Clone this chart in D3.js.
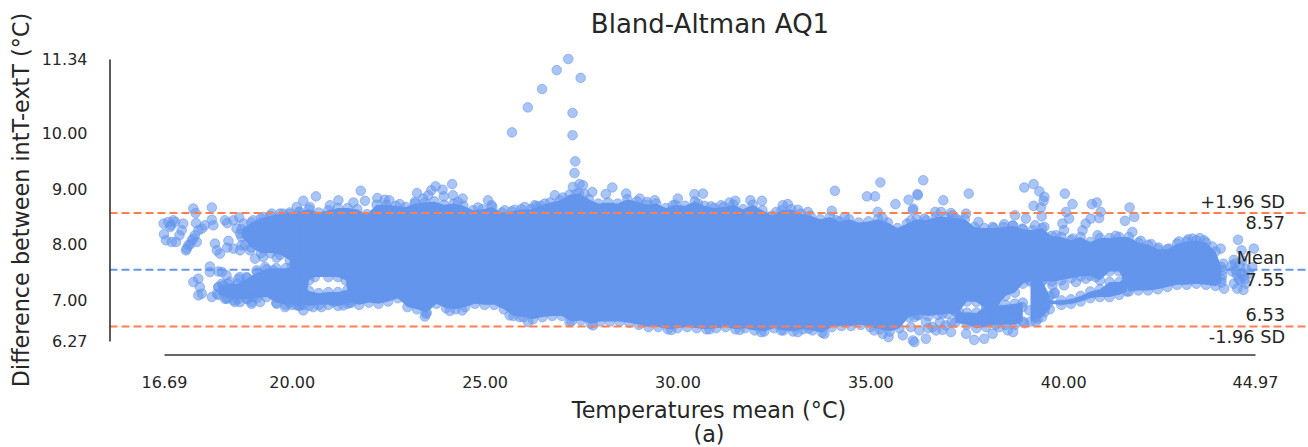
<!DOCTYPE html>
<html>
<head>
<meta charset="utf-8">
<script src="https://cdn.jsdelivr.net/npm/d3@7"></script>
<style>
    html, body { margin: 0; padding: 0; background: #fff; }
    svg { display: block; }
    text { font-family: "DejaVu Sans", sans-serif; fill: #262626; }
</style>
</head>
<body>
<div id="chart"></div>
<script>
// values. the dense middle of the cloud is a solid mass, so it is
// kept as outlines (upper/lower limit of the cloud) and only the edge and stray points are listed
const xTicks = [16.69, 20, 25, 30, 35, 40, 44.97];
const yTicks = [6.27, 7, 8, 9, 10, 11.34];
const meanDiff = 7.55;
const upperLimit = 8.57;
const lowerLimit = 6.53;

const mainTopX = [19.95,20.2,20.45,20.7,20.95,21.2,21.45,21.7,21.95,22.2,22.45,22.7,22.95,23.2,23.45,23.7,23.95,24.2,24.45,24.7,24.95,25.2,25.45,25.7,25.95,26.2,26.45,26.7,26.95,27.2,27.45,27.7,27.95,28.2,28.45,28.7,28.95,29.2,29.45,29.7,29.95,30.2,30.45,30.7,30.95,31.2,31.45,31.7,31.95,32.2,32.45,32.7,32.95,33.2,33.45,33.7,33.95,34.2,34.45,34.7,34.95,35.2,35.45,35.7,35.95,36.2,36.45,36.7,36.95,37.2,37.45,37.7,37.95,38.2,38.45,38.7,38.95,39.2,39.45,39.7,39.95,40.2,40.45,40.7,40.95,41.2,41.45,41.7,41.95,42.2,42.45,42.7,42.95,43.2,43.45,43.7,43.95,44.1];
const mainTopY = [8.55,8.60,8.64,8.58,8.62,8.66,8.66,8.64,8.55,8.72,8.72,8.70,8.68,8.74,8.76,8.78,8.72,8.74,8.70,8.62,8.64,8.68,8.58,8.60,8.64,8.64,8.70,8.76,8.80,8.90,8.92,8.82,8.74,8.76,8.74,8.82,8.78,8.72,8.74,8.66,8.72,8.70,8.78,8.70,8.66,8.68,8.72,8.64,8.72,8.62,8.52,8.62,8.64,8.56,8.52,8.46,8.50,8.42,8.46,8.40,8.42,8.46,8.40,8.30,8.38,8.46,8.44,8.50,8.50,8.48,8.46,8.32,8.30,8.30,8.32,8.34,8.28,8.26,8.30,8.16,8.14,8.08,8.14,8.05,8.12,8.12,8.14,8.14,8.04,8.00,7.92,7.92,8.02,8.06,8.08,8.04,7.88,7.60];
const mainBottomX = [19.95,20.2,20.35,20.45,20.6,20.95,21.2,21.4,21.5,21.75,22.0,22.25,22.5,22.75,23.0,23.25,23.5,23.75,24.0,24.25,24.5,24.75,25.0,25.25,25.5,25.75,26.0,26.25,26.5,26.75,27.0,27.25,27.5,27.75,28.0,28.25,28.5,28.75,29.0,29.25,29.5,29.75,30.0,30.25,30.5,30.75,31.0,31.25,31.5,31.75,32.0,32.25,32.5,32.75,33.0,33.25,33.5,33.75,34.0,34.25,34.5,34.75,35.0,35.25,35.5,35.75,36.0,36.25,36.5,36.75,37.0,37.25,37.5,37.75,38.0,38.25,38.5,38.75,38.95,39.15,39.45,39.7,39.95,40.2,40.45,40.7,40.95,41.2,41.45,41.6,41.7,41.95,42.2,42.45,42.7,42.95,43.2,43.45,43.7,43.95,44.1];
const mainBottomY = [6.96,6.90,7.00,7.36,7.42,7.42,7.42,7.36,6.96,6.92,6.96,6.94,6.98,7.04,6.88,6.84,6.78,6.94,6.86,6.84,6.88,6.94,6.92,6.92,6.84,6.72,6.70,6.66,6.70,6.72,6.72,6.62,6.64,6.58,6.62,6.62,6.62,6.60,6.56,6.52,6.52,6.48,6.50,6.52,6.50,6.48,6.50,6.52,6.48,6.50,6.46,6.44,6.50,6.46,6.44,6.48,6.46,6.42,6.52,6.54,6.54,6.56,6.52,6.48,6.44,6.50,6.70,6.74,6.72,6.74,6.76,6.75,6.98,6.97,6.85,6.85,7.08,7.14,7.30,7.34,7.34,7.34,7.36,7.40,7.43,7.44,7.36,7.52,7.52,7.30,7.16,7.18,7.18,7.20,7.24,7.28,7.28,7.30,7.28,7.26,7.32];

// thick strands that are split from the main mass by white gaps
const upperLobeX = [18.7,18.95,19.2,19.45,19.7,19.95,20.2];
const upperLobeTop = [8.28,8.40,8.48,8.52,8.56,8.58,8.58];
const upperLobeBottom = [8.14,7.95,7.85,7.85,7.82,7.72,7.70];
const lowerLobeX = [18.1,18.35,18.6,18.85,19.1,19.35,19.6,19.85,20.0,20.2];
const lowerLobeTop = [7.24,7.30,7.30,7.40,7.50,7.56,7.58,7.58,7.60,7.62];
const lowerLobeBottom = [7.10,7.04,7.02,7.02,7.04,7.06,6.96,6.92,6.92,6.92];
const slitStrandX = [20.3,20.45,20.7,20.95,21.2,21.45,21.55];
const slitStrandTop = [7.28,7.17,7.13,7.15,7.15,7.19,7.28];
const slitStrandBottom = [6.92,6.90,6.92,6.92,6.90,6.94,6.96];
const loopStrandX = [37.2,37.5,37.75,38.0,38.25,38.5,38.75,38.95];
const loopStrandTop = [6.80,6.78,6.78,6.90,6.90,6.92,6.94,6.96];
const loopStrandBottom = [6.60,6.56,6.50,6.52,6.56,6.56,6.56,6.62];
const columnStrandX = [39.15,39.45,39.65];
const columnStrandTop = [7.36,7.36,7.08];
const columnStrandBottom = [6.62,6.70,6.84];
const tailStrandX = [39.6,39.95,40.2,40.45,40.7,40.95,41.2,41.45,41.65];
const tailStrandTop = [7.00,7.00,7.02,7.08,7.16,7.20,7.33,7.33,7.40];
const tailStrandBottom = [6.94,6.92,6.94,6.98,7.04,7.06,7.06,7.10,7.16];

const spikeX = [25.71,26.12,26.49,26.87,27.17,27.49,27.28,27.28,27.35,27.33];
const spikeY = [10.02,10.47,10.80,11.14,11.34,11.00,10.37,9.97,9.50,9.29];

// single points around the left end of the cloud
const leftX = [16.68,16.80,16.93,16.87,17.19,17.15,17.09,17.00,16.89,16.74,16.69,16.85,16.98,17.26,17.32,17.41,17.49,17.58,17.75,17.52,17.97,17.93,17.45,17.51,17.93,18.27,18.33,18.49,18.64,18.01,18.06,18.14,18.36,18.33,18.49,18.66,18.70,17.37,17.28,17.45,17.54,17.67,17.45,17.58,17.62,17.58,17.67,17.93,17.88,17.88,18.10,18.19,18.31,18.10,18.06,18.23,18.27,18.40,18.49,18.66,18.75,18.66,18.96,19.00];
const leftY = [8.38,8.41,8.44,8.35,8.38,8.26,8.17,8.05,8.05,8.08,8.19,8.32,8.41,7.90,7.99,8.08,8.17,8.26,8.35,8.39,8.35,8.45,8.65,8.57,8.67,8.44,8.39,8.44,8.49,8.02,7.90,7.84,8.07,7.95,7.93,7.90,7.99,8.01,7.93,8.11,8.05,8.29,7.33,7.39,7.24,7.09,7.12,7.06,7.51,7.61,7.52,7.51,7.45,7.24,7.12,7.27,7.03,7.18,7.00,6.97,7.24,7.42,6.97,7.06];

// bumps on the lobes and loops, where the edge is rough
const roughX = [18.19,18.40,18.62,18.83,19.09,19.31,19.52,18.31,18.53,18.83,18.96,19.18,19.61,19.83,20.13,20.30,20.56,20.77,21.08,21.34,18.57,18.75,19.00,19.26,19.48,19.78,18.66,18.79,18.92,19.05,19.26,19.61,37.52,37.30,37.74,38.00,38.25,38.47,38.77,38.94,39.12,39.42,39.55,39.29,38.60,36.87,36.61,36.44,36.14,36.80,37.10,36.50,36.95,39.76,39.78,39.72,40.02,40.33,40.58,40.84,44.12,44.14,44.10];
const roughY = [7.30,7.33,7.39,7.42,7.54,7.60,7.54,7.03,6.97,7.03,6.94,6.97,6.94,6.88,6.91,6.82,6.88,6.88,6.97,6.91,8.29,8.38,8.44,8.50,8.56,8.56,8.20,7.99,7.90,7.75,7.78,7.77,6.70,6.79,6.67,6.70,6.70,6.76,6.82,6.88,6.82,6.82,6.94,6.70,6.67,6.76,6.52,6.61,6.70,6.60,6.60,6.50,6.55,7.12,7.14,7.27,7.27,7.33,7.39,7.42,7.45,7.55,7.38];

// points sticking out above the cloud
const aboveX = [20.13,20.30,20.63,20.47,20.99,21.21,21.60,21.79,21.90,22.22,22.41,22.53,22.80,23.25,23.19,23.41,23.54,23.73,23.62,23.91,24.16,24.18,23.94,24.43,24.31,24.83,25.09,25.18,25.52,25.78,26.04,26.34,27.29,27.46,27.55,27.79,28.31,28.14,28.67,26.82,27.03,27.38,27.59,29.02,29.21,29.41,30.01,30.44,30.66,30.53,29.88,30.87,31.13,26.30,26.56,31.35,31.50,31.89,32.19,32.86,32.73,33.12,33.38,34.00,34.08,35.26,34.91,35.12,35.65,35.99,36.22,35.19,36.11,32.56,32.34,34.11,34.33,35.32,36.05,36.37,36.23,36.10,36.89,37.55,36.68,36.83,37.09,37.48,37.80,38.47,38.75,38.99,39.23,39.38,39.51,39.49,39.23,39.42,39.44,39.03,39.27,40.04,40.24,40.07,40.15,39.98,40.02,40.74,40.87,40.97,40.93,40.71,40.58,40.50,40.24,40.89,39.81,39.51,38.69,38.94,38.17,36.40,37.13,37.30,41.72,41.84,41.60,41.79,41.36,42.01,42.28,42.47,43.00,43.24,43.35,43.54,43.65,43.86,44.08,42.74];
const aboveY = [8.68,8.79,8.87,8.68,8.71,8.80,8.76,8.97,8.79,8.84,8.81,8.80,8.73,8.93,8.77,8.83,8.89,9.05,8.98,8.99,9.09,8.89,8.87,8.83,8.77,8.67,8.80,8.71,8.62,8.63,8.68,8.69,9.04,9.09,9.07,8.95,9.03,8.91,8.92,8.89,8.85,8.92,8.91,8.83,8.77,8.80,8.83,8.91,8.92,8.74,8.71,8.69,8.71,8.71,8.74,8.76,8.79,8.80,8.79,8.73,8.71,8.63,8.59,8.61,8.97,9.12,8.87,8.87,8.73,8.81,8.91,8.59,8.65,8.59,8.50,8.44,8.50,8.47,8.44,9.16,8.89,8.62,8.80,8.92,8.59,8.59,8.57,8.56,8.41,8.37,8.53,9.03,9.09,8.96,8.86,8.79,8.70,8.67,8.51,8.47,8.35,8.92,8.73,8.59,8.47,8.38,8.26,8.73,8.76,8.59,8.48,8.47,8.38,8.26,8.11,8.17,8.17,8.32,8.35,8.29,8.32,8.47,8.53,8.44,8.67,8.50,8.43,8.23,8.16,8.07,8.01,7.95,8.06,8.10,8.11,8.12,8.08,7.97,7.93,7.93];

// points hanging below the cloud and the loose ones at the far right
const belowX = [23.48,23.45,24.10,24.42,25.65,25.91,26.13,27.20,27.81,29.84,30.83,31.61,32.17,32.69,33.12,33.40,33.81,35.10,35.32,35.47,35.84,36.10,36.44,36.14,36.27,36.70,36.87,37.09,37.48,37.69,37.95,38.17,38.56,38.70,38.34,38.99,39.29,39.51,39.33,38.69,38.51,36.23,36.05,44.15,44.53,44.94,44.42,44.62,44.38,44.47,44.73,44.90,44.64,44.68,44.81,44.42,44.51,44.67,44.73,44.55,44.17,44.45,44.58,44.62,44.50,44.58,44.70,44.38];
const belowY = [6.76,6.71,6.81,6.82,6.73,6.70,6.61,6.61,6.55,6.47,6.48,6.47,6.43,6.46,6.43,6.49,6.40,6.46,6.40,6.34,6.37,6.28,6.31,6.25,6.46,6.46,6.47,6.43,6.40,6.29,6.31,6.40,6.46,6.43,6.52,6.59,6.61,6.79,6.67,6.70,6.70,6.73,6.52,7.66,8.09,7.93,7.73,7.90,7.63,7.54,7.57,7.60,7.72,7.45,7.48,7.30,7.21,7.19,7.30,7.39,7.21,7.66,7.62,7.48,7.46,7.36,7.38,7.52];

const width = 1308, height = 447;
const margin = {left: 109.5, right: 1255, top: 59, bottom: 341};

const svg = d3.select("#chart").append("svg")
    .attr("width", width)
    .attr("height", height);

const x = d3.scaleLinear().domain([16.69, 44.97]).range([164, margin.right]);
const y = d3.scaleLinear().domain([6.27, 11.34]).range([margin.bottom, margin.top]);

// --- cloud ---
const blue = "#6495ED";
const outline = d3.line().x(d => x(d[0])).y(d => y(d[1]));

function zipPts(xs, ys) {
    return xs.map((v, i) => [v, ys[i]]);
}

const mainEdgeTop = zipPts(mainTopX, mainTopY);
const mainEdgeBottom = zipPts(mainBottomX, mainBottomY);

const strands = [
    [upperLobeX, upperLobeTop, upperLobeBottom],
    [lowerLobeX, lowerLobeTop, lowerLobeBottom],
    [slitStrandX, slitStrandTop, slitStrandBottom],
    [loopStrandX, loopStrandTop, loopStrandBottom],
    [columnStrandX, columnStrandTop, columnStrandBottom],
    [tailStrandX, tailStrandTop, tailStrandBottom]
].map(s => ({top: zipPts(s[0], s[1]), bottom: zipPts(s[0], s[2])}));

const masses = [{top: mainEdgeTop, bottom: mainEdgeBottom}].concat(strands);

svg.append("g").attr("class", "masses")
    .selectAll("path")
    .data(masses)
    .enter()
    .append("path")
    .attr("d", d => outline(d.top.concat(d.bottom.slice().reverse())) + "Z")
    .style("fill", blue);

const points = zipPts(spikeX, spikeY)
    .concat(zipPts(leftX, leftY))
    .concat(zipPts(roughX, roughY))
    .concat(zipPts(aboveX, aboveY))
    .concat(zipPts(belowX, belowY));
masses.forEach(m => {
    m.top.forEach(p => points.push(p));
    m.bottom.forEach(p => points.push(p));
});

svg.append("g").attr("class", "points")
    .selectAll("circle")
    .data(points)
    .enter()
    .append("circle")
    .attr("cx", d => x(d[0]))
    .attr("cy", d => y(d[1]))
    .attr("r", 4.8)
    .style("fill", blue)
    .style("fill-opacity", 0.55)
    .style("stroke", blue)
    .style("stroke-opacity", 0.55)
    .style("stroke-width", 1);

// --- mean and limit lines ---
const refLines = [
    {value: upperLimit, color: "#FF7F50", above: "+1.96 SD", below: "8.57"},
    {value: meanDiff, color: blue, above: "Mean", below: "7.55"},
    {value: lowerLimit, color: "#FF7F50", above: "6.53", below: "-1.96 SD"}
];

svg.append("g").attr("class", "ref-lines")
    .selectAll("line")
    .data(refLines)
    .enter()
    .append("line")
    .attr("x1", margin.left)
    .attr("x2", width)
    .attr("y1", d => y(d.value))
    .attr("y2", d => y(d.value))
    .style("stroke", d => d.color)
    .style("stroke-width", 2)
    .style("stroke-dasharray", "8,4");

const refLabels = svg.append("g").attr("class", "ref-labels")
    .attr("text-anchor", "end")
    .style("font-size", "17.7px");

refLabels.selectAll(".above")
    .data(refLines)
    .enter()
    .append("text")
    .attr("class", "above")
    .attr("x", 1285)
    .attr("y", d => y(d.value) - 5.5)
    .text(d => d.above);

refLabels.selectAll(".below")
    .data(refLines)
    .enter()
    .append("text")
    .attr("class", "below")
    .attr("x", 1285)
    .attr("y", d => y(d.value) + 16)
    .text(d => d.below);

// --- axes ---
const xAxis = d3.axisBottom(x)
    .tickValues(xTicks)
    .tickFormat(d3.format(".2f"))
    .tickSize(0)
    .tickPadding(22);
const yAxis = d3.axisLeft(y)
    .tickValues(yTicks)
    .tickFormat(d3.format(".2f"))
    .tickSize(0)
    .tickPadding(22);

const gx = svg.append("g")
    .attr("class", "x-axis")
    .attr("transform", "translate(0, 354.5)")
    .call(xAxis);
const gy = svg.append("g")
    .attr("class", "y-axis")
    .attr("transform", `translate(${margin.left}, 0)`)
    .call(yAxis);

[gx, gy].forEach(g => {
    g.select(".domain").style("stroke", "#333").style("stroke-width", 1.6);
    g.selectAll("text")
        .style("font-family", '"DejaVu Sans", sans-serif')
        .style("font-size", "16px")
        .style("fill", "#262626");
});

// --- titles ---
svg.append("text")
    .attr("x", 710)
    .attr("y", 33)
    .attr("text-anchor", "middle")
    .style("font-size", "26px")
    .text("Bland-Altman AQ1");

svg.append("text")
    .attr("x", 709)
    .attr("y", 418)
    .attr("text-anchor", "middle")
    .style("font-size", "22.3px")
    .text("Temperatures mean (°C)");

svg.append("text")
    .attr("x", 709)
    .attr("y", 442)
    .attr("text-anchor", "middle")
    .style("font-size", "22.3px")
    .text("(a)");

svg.append("text")
    .attr("transform", "translate(29, 200) rotate(-90)")
    .attr("text-anchor", "middle")
    .style("font-size", "22.3px")
    .text("Difference between intT-extT (°C)");
</script>
</body>
</html>
